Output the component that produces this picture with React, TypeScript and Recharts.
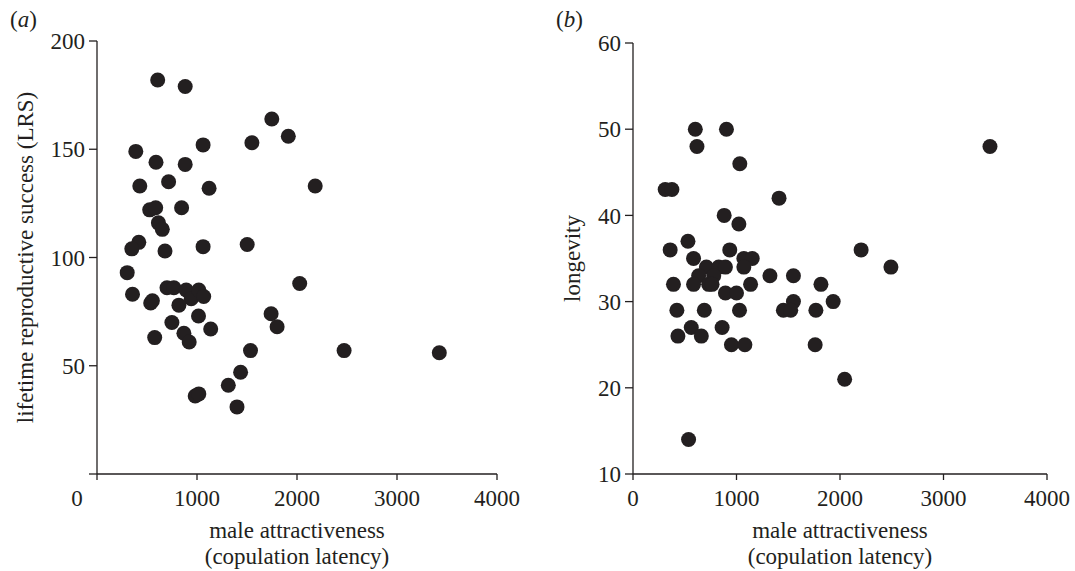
import React from 'react';
import { ScatterChart, Scatter, XAxis, YAxis, Label } from 'recharts';

// panel (a): copulation latency vs lifetime reproductive success
const lrsLatency = [
  607, 882, 1748, 1913, 388, 1061, 1549, 590, 882, 428, 716, 1121, 2182, 527, 587, 846, 614,
  653, 418, 348, 680, 1061, 1502, 302, 355, 537, 554, 700, 769, 892, 942, 1018, 1067, 819, 1015,
  749, 1137, 869, 922, 577, 2027, 1741, 1801, 1535, 1436, 1313, 982, 1018, 1400, 2471, 3423
];
const lrsValues = [
  182, 179, 164, 156, 149, 152, 153, 144, 143, 133, 135, 132, 133, 122, 123, 123, 116,
  113, 107, 104, 103, 105, 106, 93, 83, 79, 80, 86, 86, 85, 81, 85, 82, 78, 73,
  70, 67, 65, 61, 63, 88, 74, 68, 57, 47, 41, 36, 37, 31, 57, 56
];

// panel (b): copulation latency vs longevity
const lonLatency = [
  602, 903, 618, 1032, 311, 376, 1411, 881, 1023, 359, 531, 935, 585, 1071, 1152, 1071, 709,
  828, 893, 634, 780, 1323, 1550, 391, 585, 731, 764, 1136, 1816, 893, 1000, 1550, 1934, 424,
  689, 1029, 1453, 1524, 1767, 434, 563, 660, 861, 951, 1081, 1760, 537, 3449, 2204, 2492, 2045
];
const lonValues = [
  50, 50, 48, 46, 43, 43, 42, 40, 39, 36, 37, 36, 35, 35, 35, 34, 34,
  34, 34, 33, 33, 33, 33, 32, 32, 32, 32, 32, 32, 31, 31, 30, 30, 29,
  29, 29, 29, 29, 29, 26, 27, 26, 27, 25, 25, 25, 14, 48, 36, 34, 21
];

const xTicks = [0, 1000, 2000, 3000, 4000];
const lrsTicks = [0, 50, 100, 150, 200];
const lonTicks = [10, 20, 30, 40, 50, 60];

const lrsData = lrsLatency.map((x, i) => ({ x, y: lrsValues[i] }));
const lonData = lonLatency.map((x, i) => ({ x, y: lonValues[i] }));

const INK = '#231f20';
const FONT = '"Liberation Serif", "Times New Roman", serif';
const FS = 23;

const Dot = (props: any) => <circle cx={props.cx} cy={props.cy} r={7.5} fill={INK} />;

const makeXTick = (zeroShift: number) => (props: any) => {
  const { x, y, payload } = props;
  const dx = payload.value === 0 ? zeroShift : 0;
  return (
    <text x={x + dx} y={y} dy="0.71em" textAnchor="middle" fill={INK} fontSize={FS} fontFamily={FONT}>
      {payload.value}
    </text>
  );
};

const XTitle = (props: any) => {
  const vb = props.viewBox || {};
  const cx = vb.x + vb.width / 2;
  return (
    <text textAnchor="middle" fill={INK} fontSize={FS} fontFamily={FONT} dominantBaseline="central">
      <tspan x={cx} y={vb.y + 56}>male attractiveness</tspan>
      <tspan x={cx} y={vb.y + 82}>(copulation latency)</tspan>
    </text>
  );
};

const makeYTitle = (text: string, offset: number) => (props: any) => {
  const vb = props.viewBox || {};
  const x = vb.x + offset;
  const y = vb.y + vb.height / 2;
  return (
    <text
      x={x}
      y={y}
      transform={`rotate(-90, ${x}, ${y})`}
      textAnchor="middle"
      dominantBaseline="central"
      fill={INK}
      fontSize={FS}
      fontFamily={FONT}
    >
      {text}
    </text>
  );
};

const tickStyle = { fill: INK, fontSize: FS, fontFamily: FONT };
const axisLine = { stroke: INK, strokeWidth: 1.3 };

const PanelTag: React.FC<{ letter: string; left: number }> = ({ letter, left }) => (
  <div
    style={{
      position: 'absolute',
      left,
      top: 6,
      fontFamily: FONT,
      fontSize: FS,
      color: INK,
      lineHeight: '28px',
    }}
  >
    (<i>{letter}</i>)
  </div>
);

export default function App() {
  return (
    <div style={{ position: 'absolute', left: 0, top: 0, width: 1075, height: 571, background: '#fff' }}>
      <PanelTag letter="a" left={10} />
      <PanelTag letter="b" left={556} />

      <div style={{ position: 'absolute', left: 0, top: 0 }}>
        <ScatterChart width={520} height={571} margin={{ top: 41, right: 23, bottom: 0, left: 0 }}>
          <XAxis
            type="number"
            dataKey="x"
            domain={[0, 4000]}
            ticks={xTicks}
            height={97}
            tickSize={6}
            tickMargin={10}
            axisLine={axisLine}
            tickLine={axisLine}
            tick={makeXTick(-20)}
          >
            <Label content={<XTitle />} />
          </XAxis>
          <YAxis
            type="number"
            dataKey="y"
            domain={[0, 200]}
            ticks={lrsTicks}
            width={97}
            tickSize={8}
            tickMargin={4}
            axisLine={axisLine}
            tickLine={axisLine}
            tick={tickStyle}
            tickFormatter={(v: number) => (v === 0 ? '' : String(v))}
          >
            <Label content={makeYTitle('lifetime reproductive success (LRS)', 25)} />
          </YAxis>
          <Scatter data={lrsData} fill={INK} shape={Dot} isAnimationActive={false} />
        </ScatterChart>
      </div>

      <div style={{ position: 'absolute', left: 540, top: 0 }}>
        <ScatterChart width={535} height={571} margin={{ top: 43, right: 28, bottom: 0, left: 0 }}>
          <XAxis
            type="number"
            dataKey="x"
            domain={[0, 4000]}
            ticks={xTicks}
            height={97}
            tickSize={6}
            tickMargin={10}
            axisLine={axisLine}
            tickLine={axisLine}
            tick={makeXTick(0)}
          >
            <Label content={<XTitle />} />
          </XAxis>
          <YAxis
            type="number"
            dataKey="y"
            domain={[10, 60]}
            ticks={lonTicks}
            width={93}
            tickSize={8}
            tickMargin={4}
            axisLine={axisLine}
            tickLine={axisLine}
            tick={tickStyle}
          >
            <Label content={makeYTitle('longevity', 32)} />
          </YAxis>
          <Scatter data={lonData} fill={INK} shape={Dot} isAnimationActive={false} />
        </ScatterChart>
      </div>
    </div>
  );
}
